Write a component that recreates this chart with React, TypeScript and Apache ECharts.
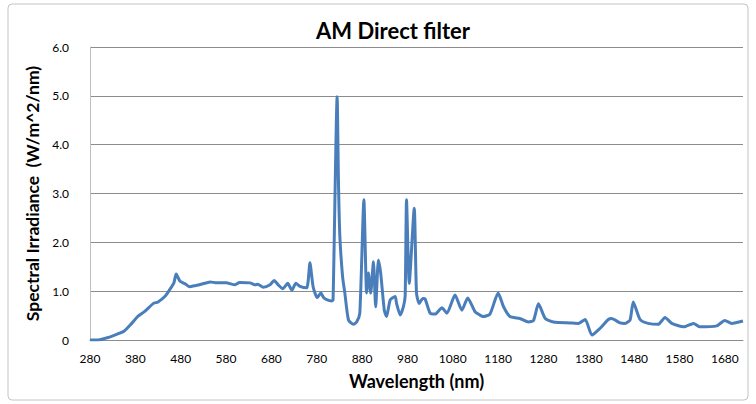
import React, { useEffect, useRef } from "react";
import * as echarts from "echarts";

const title = "AM Direct filter";
const xName = "Wavelength (nm)";
const yName = "Spectral Irradiance  (W/m^2/nm)";

// wavelength (nm)
const wavelengths = [
  280, 298, 320, 340, 355, 370, 385, 400, 420, 430, 445, 455, 465, 470, 478, 485, 490, 500, 510, 525,
  545, 560, 580, 600, 610, 633, 645, 650, 662, 677, 686, 695, 705, 716, 725, 734, 743, 758, 765, 772,
  781, 789, 795, 803, 813, 816, 825, 828, 831, 837, 842, 850, 861, 868, 875, 884, 890, 894, 899, 905,
  910, 916, 921, 929, 934, 942, 953, 956, 964, 971, 975, 978, 984, 995, 1000, 1006, 1014, 1019, 1030, 1041,
  1056, 1067, 1085, 1100, 1113, 1129, 1140, 1147, 1162, 1180, 1192, 1206, 1228, 1247, 1258, 1269, 1284, 1302, 1339, 1357,
  1372, 1387, 1405, 1423, 1430, 1449, 1460, 1471, 1478, 1493, 1511, 1533, 1548, 1563, 1589, 1611, 1624, 1662, 1680, 1695,
  1720,
];

// spectral irradiance (W/m^2/nm)
const irradiance = [
  0.0, 0.0, 0.05, 0.12, 0.18, 0.32, 0.48, 0.58, 0.75, 0.78, 0.89, 1.02, 1.17, 1.35, 1.21, 1.17, 1.15, 1.09, 1.11, 1.14,
  1.19, 1.17, 1.17, 1.13, 1.18, 1.17, 1.13, 1.14, 1.08, 1.13, 1.22, 1.13, 1.05, 1.16, 1.02, 1.16, 1.10, 1.07, 1.58, 1.09,
  0.87, 0.96, 0.87, 0.82, 0.80, 0.82, 4.98, 3.2, 2.12, 1.3, 0.96, 0.41, 0.32, 0.37, 0.55, 2.87, 0.96, 1.37, 0.96, 1.6,
  0.68, 1.64, 1.37, 0.61, 0.48, 0.82, 0.89, 0.75, 0.51, 0.68, 0.9, 2.87, 1.16, 2.7, 0.96, 0.75, 0.85, 0.84, 0.55, 0.53,
  0.66, 0.55, 0.92, 0.61, 0.86, 0.58, 0.51, 0.48, 0.53, 0.96, 0.68, 0.48, 0.44, 0.37, 0.40, 0.74, 0.44, 0.37, 0.35, 0.34,
  0.42, 0.10, 0.24, 0.42, 0.44, 0.35, 0.34, 0.41, 0.78, 0.42, 0.34, 0.32, 0.46, 0.34, 0.27, 0.34, 0.27, 0.29, 0.40, 0.34,
  0.39,
];

const xStart = 280;
const xEnd = 1720;
const xStep = 100;
const yTicks = [0, 1, 2, 3, 4, 5, 6];

const FONT = "Lato, 'Open Sans', sans-serif";

export default function App() {
  const ref = useRef<HTMLDivElement>(null);
  useEffect(() => {
    if (!ref.current) return;
    const chart = echarts.init(ref.current, null, { renderer: "svg" });
    const data = wavelengths.map((w, i) => [w - xStart, irradiance[i]]);
    chart.setOption({
      animation: false,
      backgroundColor: "#ffffff",
      textStyle: { fontFamily: FONT },
      title: {
        text: title,
        left: 388,
        textAlign: "center",
        top: 14,
        textStyle: { fontFamily: FONT, fontSize: 22, fontWeight: "bold", color: "#000" },
      },
      graphic: [
        {
          type: "rect",
          shape: { x: 8, y: 4, width: 740, height: 396, r: 4 },
          style: { fill: "none", stroke: "#c4c4c4", lineWidth: 1 },
          silent: true,
          z: -1,
        },
      ],
      grid: { left: 90, right: 13, top: 47, bottom: 64, containLabel: false },
      xAxis: {
        type: "value",
        min: 0,
        max: xEnd - xStart,
        interval: xStep,
        name: xName,
        nameLocation: "middle",
        nameGap: 32,
        nameTextStyle: { fontFamily: FONT, fontSize: 18, fontWeight: "bold", color: "#000" },
        axisLine: { show: true, lineStyle: { color: "#8c8c8c", width: 1 } },
        axisTick: { show: false },
        splitLine: { show: false },
        axisLabel: {
          formatter: (v: number) => String(v + xStart),
          fontFamily: FONT,
          fontSize: 12,
          color: "#000",
          margin: 12,
          showMaxLabel: false,
        },
      },
      yAxis: {
        type: "value",
        min: yTicks[0],
        max: yTicks[yTicks.length - 1],
        interval: 1,
        name: yName,
        nameLocation: "middle",
        nameGap: 46,
        nameTextStyle: { fontFamily: FONT, fontSize: 17.5, fontWeight: "bold", color: "#000" },
        axisLine: { show: true, lineStyle: { color: "#bfbfbf", width: 1 } },
        axisTick: { show: false },
        splitLine: { show: true, lineStyle: { color: "#8c8c8c", width: 1 } },
        axisLabel: {
          formatter: (v: number) => (v === 0 ? "0" : v.toFixed(1)),
          fontFamily: FONT,
          fontSize: 12,
          color: "#000",
          margin: 21,
        },
      },
      series: [
        {
          type: "line",
          data,
          showSymbol: false,
          smooth: 0.2,
          lineStyle: { color: "#4a7ebb", width: 3 },
          itemStyle: { color: "#4a7ebb" },
        },
      ],
    });
    return () => chart.dispose();
  }, []);
  return (
    <div
      ref={ref}
      style={{ position: "absolute", left: 0, top: 0, width: 756, height: 404 }}
    />
  );
}
